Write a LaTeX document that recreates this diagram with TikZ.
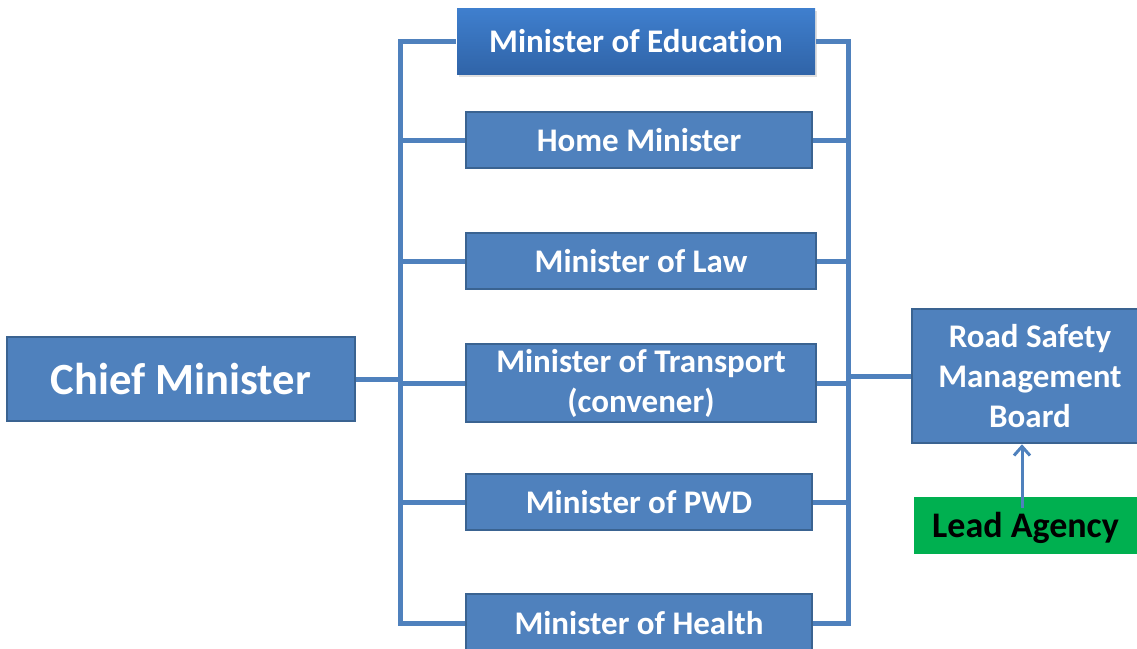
\documentclass[tikz,border=0pt]{standalone}
\usepackage{fontspec}
\setmainfont[Ligatures=NoCommon]{Carlito}
\usetikzlibrary{arrows.meta,shadows}
\definecolor{boxblue}{HTML}{4F81BD}
\definecolor{boxedge}{HTML}{3A6391}
\definecolor{edutop}{HTML}{3F7FCE}
\definecolor{edubot}{HTML}{3064A8}
\definecolor{leadgreen}{HTML}{00B050}
\tikzset{
  minbox/.style = {rectangle, align=center, inner sep=0pt, text=white,
    font=\fontsize{33}{40}\selectfont\bfseries, fill=boxblue,
    draw=boxedge, line width=2.5pt},% ministers and board
  edubox/.style = {minbox, draw=none, top color=edutop, bottom color=edubot,
    drop shadow={shadow xshift=2pt, shadow yshift=-3pt, opacity=0.25}},
  leadbox/.style = {rectangle, align=center, inner sep=0pt, fill=leadgreen,
    font=\fontsize{36}{40}\selectfont\bfseries, text=black,
    text height=27pt, text depth=4pt},
  link/.style = {draw=boxblue, line width=5pt}
}
\begin{document}
\begin{tikzpicture}[x=1pt,y=-1pt]
  \useasboundingbox (0,0) rectangle (1137,648);
  \clip (0,0) rectangle (1137,648);

  \node [minbox, minimum width=348pt, minimum height=84pt,
    font=\fontsize{44.6}{52}\selectfont\bfseries] (chief) at (181,379) {Chief Minister};
  \node [edubox, minimum width=358pt, minimum height=66pt] (edu) at (636,41) {Minister of Education};
  \node [minbox, minimum width=346pt, minimum height=56pt] (home) at (639,140) {Home Minister};
  \node [minbox, minimum width=350pt, minimum height=56pt] (law) at (641,261) {Minister of Law};
  \node [minbox, minimum width=350pt, minimum height=78pt] (transport) at (641,383) {Minister of Transport\\(convener)};
  \node [minbox, minimum width=346pt, minimum height=56pt] (pwd) at (639,502) {Minister of PWD};
  \node [minbox, minimum width=346pt, minimum height=58pt] (health) at (639,623) {Minister of Health};
  \node [minbox, minimum width=236pt, minimum height=134pt] (rsmb) at (1030,376) {Road Safety\\Management\\Board};
  \node [leadbox, minimum width=223pt, minimum height=57pt] (lead) at (1025.5,525.5) {Lead Agency};

  % buses on both sides of the ministers
  \coordinate (lb) at (400,623);
  \coordinate (rb) at (848,623);
  \draw [link] (edu.west) -| (lb) -- (health.west);
  \draw [link] (edu.east) -| (rb) -- (health.east);
  \foreach \n in {home,law,transport,pwd} {
    \draw [link] (\n.west) -- (\n.west -| lb);
    \draw [link] (\n.east) -- (\n.east -| rb);
  }
  \draw [link] (chief.east) -- (chief.east -| lb);
  \draw [link] (rsmb.west -| rb) -- (rsmb.west);

  % the agency reports up to the board
  \coordinate (leadtop) at (1022,508);
  \draw [draw=boxblue, line width=3pt, -{Straight Barb[length=9pt,width=16pt]}] (leadtop) -- (leadtop |- rsmb.south);
\end{tikzpicture}
\end{document}
